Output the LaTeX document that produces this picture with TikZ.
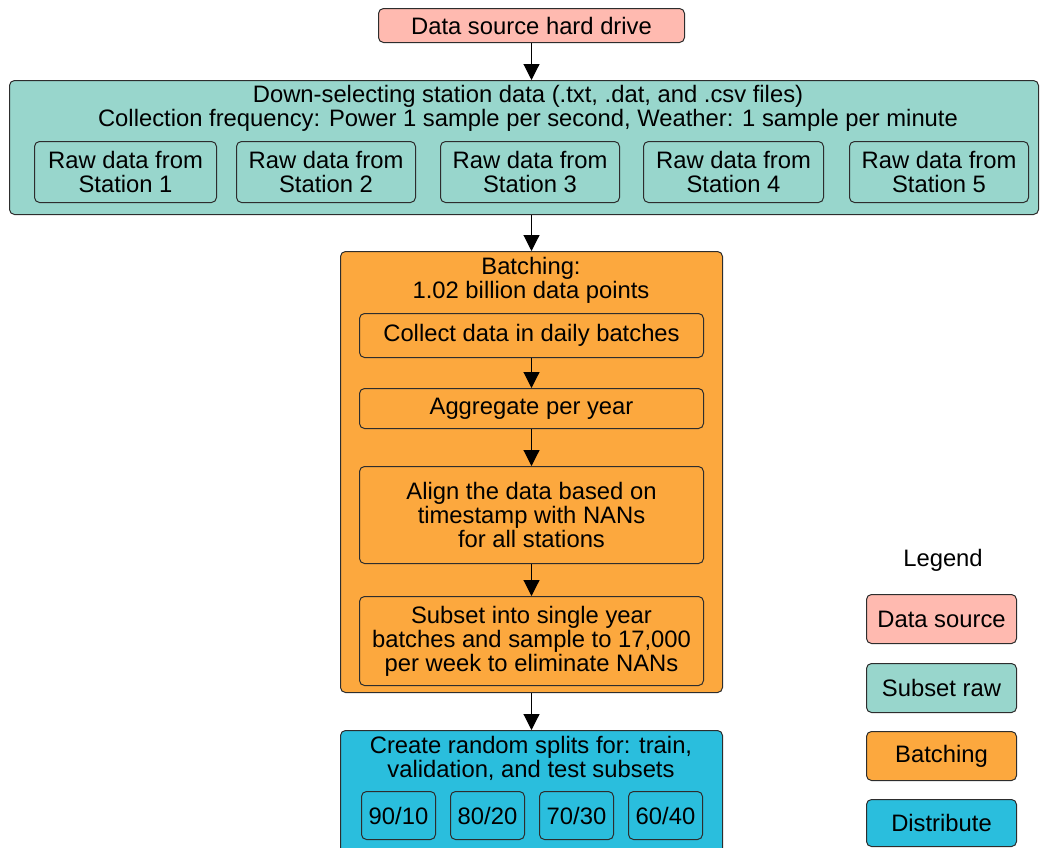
\documentclass[tikz,border=0pt]{standalone}
\usepackage{fontspec}
\setmainfont{Liberation Sans}
\usetikzlibrary{arrows.meta}
\definecolor{cpink}{RGB}{255,186,176}
\definecolor{cteal}{RGB}{152,214,204}
\definecolor{corange}{RGB}{252,168,62}
\definecolor{cblue}{RGB}{42,190,221}
\definecolor{cedge}{RGB}{45,45,45}
\tikzset{
  box/.style={draw=cedge, line width=1pt, rounded corners=5pt, inner sep=0pt, align=center, anchor=north west},
  lbl/.style={inner sep=0pt, align=center},
  arr/.style={line width=1.1pt, -{Triangle[width=16pt,length=16pt]}},
}
\begin{document}
\begin{tikzpicture}[x=1pt,y=-1pt, font=\fontsize{23.8}{24}\selectfont]
\useasboundingbox (0,0) rectangle (1040,847);
\clip (0,0) rectangle (1040,847);
% data source
\node[box, fill=cpink, minimum width=306, minimum height=34] (src) at (378,8) {Data source hard drive};
% teal group
\node[box, fill=cteal, minimum width=1029, minimum height=134] (sub) at (9,80) {};
\node[lbl] (subt) at (528,108) {Down-selecting station data (.txt, .dat, and .csv files)\\Collection frequency: Power 1 sample per second, Weather: 1 sample per minute};
\node[box, minimum width=182, minimum height=61] (s1) at (34,141) {Raw data from\\Station 1};
\node[box, minimum width=179, minimum height=61] (s2) at (236,141) {Raw data from\\Station 2};
\node[box, minimum width=179, minimum height=61] (s3) at (440,141) {Raw data from\\Station 3};
\node[box, minimum width=180, minimum height=61] (s4) at (643,141) {Raw data from\\Station 4};
\node[box, minimum width=179, minimum height=61] (s5) at (849,141) {Raw data from\\Station 5};
% orange group
\node[box, fill=corange, minimum width=382, minimum height=441] (bat) at (340,251) {};
\node[lbl] (batt) at (531,280) {Batching:\\1.02 billion data points};
\node[box, minimum width=344, minimum height=44] (b1) at (359,313) {Collect data in daily batches};
\node[box, minimum width=344, minimum height=40] (b2) at (359,388) {Aggregate per year};
\node[box, minimum width=344, minimum height=97] (b3) at (359,466) {Align the data based on\\timestamp with NANs\\for all stations};
\node[box, minimum width=344, minimum height=89] (b4) at (359,596) {Subset into single year\\batches and sample to 17,000\\per week to eliminate NANs};
% blue group
\node[box, fill=cblue, minimum width=382, minimum height=140] (dist) at (340,730) {};
\node[lbl] (distt) at (531,758) {Create random splits for: train,\\validation, and test subsets};
\node[box, minimum width=74, minimum height=48] (d1) at (361,791) {90/10};
\node[box, minimum width=74, minimum height=48] (d2) at (450,791) {80/20};
\node[box, minimum width=74, minimum height=48] (d3) at (539,791) {70/30};
\node[box, minimum width=74, minimum height=48] (d4) at (628,791) {60/40};
% arrows
\draw[arr] (src.south) -- (src.south |- sub.north);
\draw[arr] (bat.north |- sub.south) -- (bat.north);
\draw[arr] (b1.south) -- (b2.north);
\draw[arr] (b2.south) -- (b3.north);
\draw[arr] (b3.south) -- (b4.north);
\draw[arr] (bat.south) -- (dist.north);
% legend
\node[lbl] (leg) at (943,560) {Legend};
\node[box, fill=cpink, minimum width=150, minimum height=49] (l1) at (866,594) {Data source};
\node[box, fill=cteal, minimum width=150, minimum height=49] (l2) at (866,663) {Subset raw};
\node[box, fill=corange, minimum width=150, minimum height=49] (l3) at (866,731) {Batching};
\node[box, fill=cblue, minimum width=150, minimum height=47] (l4) at (866,799) {Distribute};
\end{tikzpicture}
\end{document}
